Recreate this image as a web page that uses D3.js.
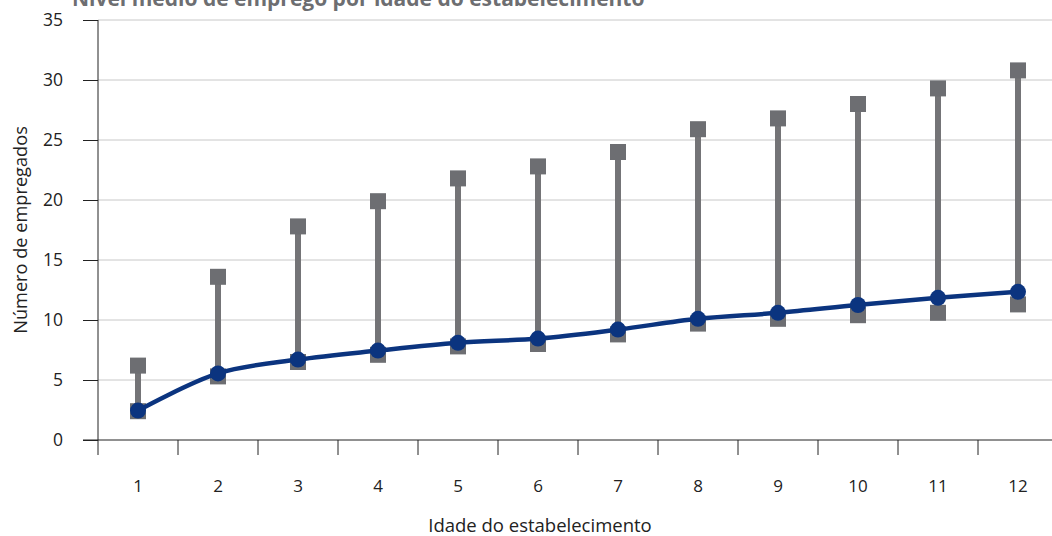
<!DOCTYPE html>
<html><head><meta charset="utf-8">
<script src="https://cdn.jsdelivr.net/npm/d3@7/dist/d3.min.js"></script>
<style>body{margin:0;background:#fff;} text{font-family:"Open Sans","Noto Sans",sans-serif;fill:#222;}</style>
</head><body><svg id="c" width="1052" height="536"></svg>
<script>
const categories = ["1","2","3","4","5","6","7","8","9","10","11","12"];
const upperValues = [6.2, 13.6, 17.8, 19.9, 21.8, 22.8, 24.0, 25.9, 26.8, 28.0, 29.3, 30.8];
const lowerValues = [2.4, 5.3, 6.5, 7.1, 7.8, 8.0, 8.8, 9.7, 10.1, 10.4, 10.6, 11.3];
const meanValues  = [2.45, 5.55, 6.7, 7.45, 8.1, 8.45, 9.2, 10.1, 10.6, 11.25, 11.85, 12.35];
const yTicks = [0, 5, 10, 15, 20, 25, 30, 35];
const title = "Nível médio de emprego por idade do estabelecimento";
const xTitle = "Idade do estabelecimento";
const yTitle = "Número de empregados";

(function(){
const svg = d3.select("#c");
const mLeft = 98, mRight = 1058, mTop = 20, mBottom = 440;
const x = d3.scaleBand().domain(categories).range([mLeft, mRight]);
const y = d3.scaleLinear().domain([0, 35]).range([mBottom, mTop]);
const cx = c => x(c) + x.bandwidth() / 2;

// title (partly clipped at top, as in the reference)
svg.append("text").attr("x", 72).attr("y", 6).attr("font-size", 21).attr("font-weight", "bold")
  .style("fill", "#6d6e71").text(title);

// grid
svg.append("g").selectAll("line").data(yTicks.filter(d => d > 0)).join("line")
  .attr("x1", mLeft).attr("x2", 1052).attr("y1", d => y(d)).attr("y2", d => y(d))
  .attr("stroke", "#c8c8c8").attr("stroke-width", 1);

// y axis
const yAxis = svg.append("g").attr("transform", `translate(${mLeft},0)`)
  .call(d3.axisLeft(y).tickValues(yTicks).tickSize(15).tickPadding(20));
yAxis.select(".domain").remove();
yAxis.selectAll(".tick line").attr("stroke", "#222");
yAxis.selectAll(".tick text").style("font-size", "17.5px").style("fill", "#222");
svg.append("line").attr("x1", mLeft).attr("x2", mLeft).attr("y1", mTop).attr("y2", mBottom + 15)
  .attr("stroke", "#222").attr("stroke-width", 1);

// x axis
const xAxis = svg.append("g").attr("transform", `translate(0,${mBottom})`)
  .call(d3.axisBottom(x).tickSize(0).tickPadding(40));
xAxis.select(".domain").remove();
xAxis.selectAll(".tick text").style("font-size", "17px").style("fill", "#222");
svg.append("line").attr("x1", mLeft - 15).attr("x2", 1052).attr("y1", mBottom).attr("y2", mBottom)
  .attr("stroke", "#222").attr("stroke-width", 1);
svg.append("g").selectAll("line").data(categories).join("line")
  .attr("x1", d => x(d) + x.bandwidth()).attr("x2", d => x(d) + x.bandwidth())
  .attr("y1", mBottom).attr("y2", mBottom + 15).attr("stroke", "#222");

// axis titles
svg.append("text").attr("x", 540).attr("y", 532).attr("text-anchor", "middle")
  .attr("font-size", 18.5).text(xTitle);
svg.append("text").attr("transform", "translate(27,230) rotate(-90)").attr("text-anchor", "middle")
  .attr("font-size", 18.2).text(yTitle);

// stems
const idx = d3.range(categories.length);
svg.append("g").selectAll("line").data(idx).join("line")
  .attr("x1", i => cx(categories[i])).attr("x2", i => cx(categories[i]))
  .attr("y1", i => y(upperValues[i])).attr("y2", i => y(lowerValues[i]))
  .attr("stroke", "#747477").attr("stroke-width", 6);

// squares
const sq = 16;
svg.append("g").selectAll("rect").data(idx.flatMap(i => [[i, upperValues[i]], [i, lowerValues[i]]])).join("rect")
  .attr("x", d => cx(categories[d[0]]) - sq / 2).attr("y", d => y(d[1]) - sq / 2)
  .attr("width", sq).attr("height", sq).attr("fill", "#6d6e72");

// mean line
const line = d3.line().x(i => cx(categories[i])).y(i => y(meanValues[i])).curve(d3.curveCatmullRom.alpha(0.5));
svg.append("path").datum(idx).attr("d", line).attr("fill", "none")
  .attr("stroke", "#0b347f").attr("stroke-width", 4.5);
svg.append("g").selectAll("circle").data(idx).join("circle")
  .attr("cx", i => cx(categories[i])).attr("cy", i => y(meanValues[i])).attr("r", 8)
  .attr("fill", "#0b347f");
})();
</script></body></html>
